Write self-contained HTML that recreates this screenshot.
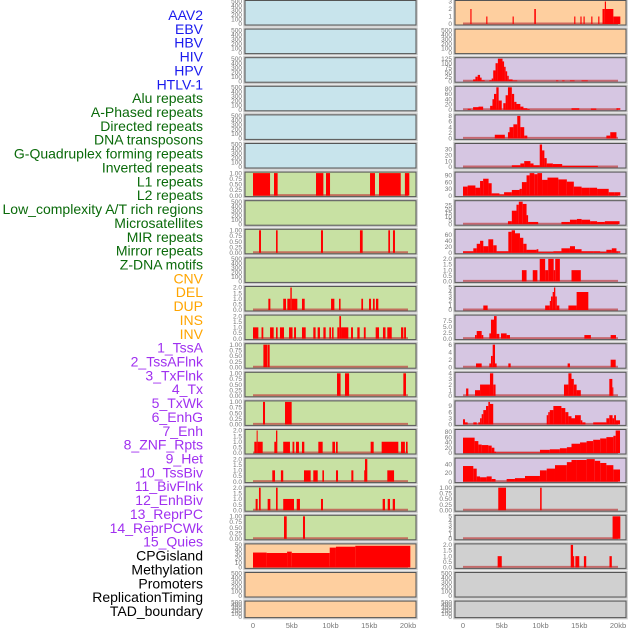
<!DOCTYPE html>
<html><head><meta charset="utf-8"><style>
html,body{margin:0;padding:0;background:#fff;}
svg{display:block;font-family:"Liberation Sans",sans-serif;}
</style></head><body>
<svg id="chart" width="630" height="630" viewBox="0 0 630 630" xmlns="http://www.w3.org/2000/svg"></svg>
<script>
const trackLabels = ["AAV2","EBV","HBV","HIV","HPV","HTLV-1","Alu repeats","A-Phased repeats","Directed repeats","DNA transposons","G-Quadruplex forming repeats","Inverted repeats","L1 repeats","L2 repeats","Low_complexity A/T rich regions","Microsatellites","MIR repeats","Mirror repeats","Z-DNA motifs","CNV","DEL","DUP","INS","INV","1_TssA","2_TssAFlnk","3_TxFlnk","4_Tx","5_TxWk","6_EnhG","7_Enh","8_ZNF_Rpts","9_Het","10_TssBiv","11_BivFlnk","12_EnhBiv","13_ReprPC","14_ReprPCWk","15_Quies","CPGisland","Methylation","Promoters","ReplicationTiming","TAD_boundary"];
const labelGroups = ["b","b","b","b","b","b","g","g","g","g","g","g","g","g","g","g","g","g","g","o","o","o","o","o","p","p","p","p","p","p","p","p","p","p","p","p","p","p","p","k","k","k","k","k"];
const xTicksKb = [0,5,10,15,20];
const xTickLabels = ["0","5kb","10kb","15kb","20kb"];
const E=[0,100,200,300,400,500], U=[0,0.25,0.5,0.75,1], T2=[0,0.5,1,1.5,2];
const leftTicks = [E,E,E,E,E,E,U,E,U,E,T2,T2,U,U,U,T2,T2,T2,U,[0,10,20,30,40,50],E,E];
const rightTicks = [[0,1,2,3],E,[0,25,50,75,100,125],[0,20,40,60,80],[0,2,4,6,8],[0,10,20,30],[0,30,60,90],[0,5,10,15,20,25],[0,20,40,60],T2,[0,1,2,3,4,5],[0,2.5,5,7.5],[0,2,4,6],[0,1,2,3,4],[0,3,6,9],[0,20,40,60,80],[0,20,40],U,[0,1,2,3,4,5],T2,E,E];
const leftBg = ["b","b","b","b","b","b","g","g","g","g","g","g","g","g","g","g","g","g","g","o","o","o"];
const rightBg = ["o","o","p","p","p","p","p","p","p","p","p","p","p","p","p","p","p","k","k","k","k","k"];
const leftSegs = [[],[],[],[],[],[],
[[0,2.2,1],[2.71,3.18,1],[8.13,9.08,1],[9.42,9.94,1],[15.1,15.74,1],[16.26,19.06,1],[19.6,20.17,1]],
[],
[[0.78,1.03,1],[2.97,3.18,1],[8.77,9.03,1],[13.8,14.15,1],[17.46,17.68,1],[18.06,18.32,1]],
[],
[[1.98,2.24,1],[3.9,4.26,1],[4.43,4.82,1],[4.82,5.0,2],[5.0,5.72,1],[6.32,6.67,1],[10.07,10.5,1],[11.1,11.3,1],[13.98,14.2,1],[14.97,15.23,1],[15.48,15.7,1],[15.87,16.17,1]],
[[0,0.69,1],[1.1,1.33,1],[2.2,2.67,1],[2.97,3.18,1],[3.48,4.0,1],[4.65,5.1,1],[5.3,5.55,1],[6.32,6.8,1],[7.78,8.08,1],[8.34,8.64,1],[9.08,9.38,1],[9.85,10.07,1],[10.2,10.4,1],[10.88,11.14,1],[11.14,11.36,2],[11.36,12.3,1],[12.65,12.9,1],[13.46,13.76,1],[14.3,14.54,1],[15.83,16.26,1],[16.77,17.1,1],[17.33,17.9,1],[19.1,19.4,1],[19.5,19.74,1]],
[[1.34,1.85,1],[1.9,2.15,1]],
[[10.84,11.3,1],[11.87,12.4,1],[19.4,19.74,1]],
[[1.29,1.55,1],[4.13,4.99,1]],
[[0.17,0.47,1],[0.47,0.6,2],[0.6,1.25,1],[2.75,2.97,1],[2.97,3.14,2],[3.9,4.77,1],[5.1,5.33,1],[5.55,5.93,1],[6.32,6.62,1],[8.43,8.99,1],[10.24,10.58,1],[10.71,10.93,1],[15.18,15.57,1],[16.6,18.75,1],[19.1,19.6,1],[19.74,19.95,1]],
[[2.49,2.84,1],[3.6,3.9,1],[6.58,7.44,1],[7.78,8.35,1],[8.95,9.16,1],[10.71,10.97,1],[12.69,12.95,1],[14.35,14.45,1],[14.45,14.75,2],[17.33,18.2,1]],
[[0.34,0.6,1],[0.77,0.99,2],[1.89,2.24,1],[2.97,3.18,2],[3.9,5.29,1],[5.64,6.06,1],[8.77,9.03,1],[16.73,17.03,1],[17.38,17.68,1],[18.03,18.32,1]],
[[4.0,4.35,1],[6.45,6.71,1]],
[[0,1.76,33],[1.76,4.4,32],[4.4,5.0,35],[5.0,9.9,32],[9.9,10.7,44],[10.7,13.2,46],[13.2,20.3,48]],
[],[]];
const rightSegs = [
[[0.95,1.1,2],[3.0,3.15,1],[6.4,6.55,1],[9.2,9.4,2],[14.35,14.5,1],[15.15,15.3,1],[15.55,15.7,1],[16.55,16.7,1],[17.45,17.6,1],[18.0,18.3,2],[18.3,18.45,3],[18.45,19.4,2],[19.4,20.3,1]],
[],
[[1.3,1.6,10],[1.6,1.9,25],[1.9,2.2,35],[2.2,2.4,20],[2.4,2.8,5],[3.4,3.7,5],[3.7,3.9,15],[3.9,4.2,60],[4.2,4.5,100],[4.5,5.1,125],[5.1,5.3,110],[5.3,5.5,80],[5.5,5.7,55],[5.7,5.9,30],[5.9,6.4,10],[6.4,7.0,4],[12.0,12.3,4],[12.8,13.1,4],[13.8,14.4,4],[15.3,16.1,4]],
[[0.6,1.0,4],[1.3,2.0,10],[2.0,2.6,12],[3.5,3.8,15],[3.8,4.0,40],[4.0,4.3,60],[4.3,4.6,85],[4.6,5.0,35],[5.2,5.5,25],[5.5,5.8,55],[5.8,6.3,85],[6.3,6.6,60],[6.6,6.9,30],[6.9,7.4,22],[7.4,7.8,12],[7.8,8.3,6],[8.3,8.6,3],[14.0,15.0,6],[16.5,17.2,5],[19.8,20.3,6]],
[[4.1,5.4,1.3],[5.8,6.0,2.2],[6.0,6.5,4],[6.5,7.0,5],[7.0,7.4,8],[7.4,7.9,4],[7.9,8.3,1],[18.5,19.0,1],[19.0,19.8,2.2]],
[[6.3,7.4,3],[7.4,7.9,6],[7.9,8.7,10],[8.7,9.1,6],[9.1,9.9,3],[9.9,10.2,38],[10.2,10.5,28],[10.5,10.8,15],[10.8,11.6,6],[11.6,12.8,5],[12.8,17.4,2]],
[[0,0.6,40],[0.6,1.6,45],[1.6,2.2,35],[2.2,2.6,65],[2.6,3.3,75],[3.3,3.7,55],[3.7,4.7,10],[4.7,5.3,5],[5.3,6.3,15],[6.3,7.3,25],[7.3,7.6,30],[7.6,8.2,60],[8.2,8.6,90],[8.6,9.2,100],[9.2,9.6,95],[9.6,10.2,100],[10.2,10.9,70],[10.9,12.3,80],[12.3,13.4,72],[13.4,14.3,62],[14.3,15.3,40],[15.3,16.3,35],[16.3,17.3,35],[17.3,18.8,30],[18.8,19.5,15],[19.5,20.3,15]],
[[5.8,6.3,4],[6.3,6.9,18],[6.9,7.2,26],[7.2,7.7,30],[7.7,8.2,27],[8.2,8.4,12],[8.4,9.7,3],[12.7,13.8,3],[13.8,14.7,6],[14.7,15.3,7],[15.3,16.4,6],[16.4,17.3,4],[17.3,18.3,3],[18.3,20.2,4]],
[[0,1.33,5],[1.33,1.77,15],[1.77,2.2,30],[2.2,2.62,40],[2.62,3.27,22],[3.27,3.9,45],[3.9,4.34,25],[4.34,5.85,5],[5.85,6.28,70],[6.28,6.71,75],[6.71,7.35,65],[7.35,7.78,50],[7.78,8.2,30],[8.2,9.5,10],[9.5,9.72,12],[9.72,11.66,3],[11.66,12.7,5],[12.7,13.8,15],[13.8,14.45,22],[14.45,15.3,12],[15.3,16.8,5],[16.8,17.7,5],[17.7,18.5,3],[18.5,19.2,10],[19.2,19.8,15],[19.8,20.3,5]],
[[7.6,8.2,1],[9.0,9.6,1],[9.9,10.6,2],[10.6,11.0,1],[11.0,11.7,2],[11.7,11.9,1],[11.9,12.5,2],[14.0,15.2,1]],
[[2.62,3.18,1],[10.6,11.2,1],[11.2,11.35,2],[11.35,11.57,3],[11.57,11.74,4],[11.74,11.91,5],[11.91,12.1,3],[12.1,12.43,1],[13.6,14.66,1],[14.66,16.17,4]],
[[1.55,1.77,1.5],[1.77,2.41,3.2],[2.41,2.62,1.5],[3.4,3.61,2.2],[3.61,4.0,8],[4.0,4.34,9.5],[4.34,4.69,2],[4.9,5.63,2.2],[5.63,6.06,1.5],[15.66,16.5,1.5],[19.05,19.74,1.5]],
[[1.68,2.41,1],[3.4,3.61,1],[3.61,3.83,3],[3.83,4.13,6],[4.13,4.34,1],[5.85,6.15,1],[13.5,13.8,1],[19.05,19.7,2]],
[[0.4,0.69,1.3],[1.55,2.2,1],[2.2,3.48,2],[3.48,3.9,4],[3.9,4.2,2],[13.03,13.6,2],[13.6,14.0,4],[14.0,14.3,3],[14.3,14.66,2],[14.66,15.2,1],[18.88,19.27,3],[19.27,19.4,1.5]],
[[0,0.26,2.5],[0.26,0.6,1],[1.33,1.77,1],[1.98,2.2,1],[2.2,2.41,3],[2.41,2.62,5],[2.62,2.97,7],[2.97,3.27,9],[3.27,3.48,11],[3.48,3.9,10],[10.8,11.0,4.5],[11.0,11.2,6],[11.2,11.66,7],[11.66,12.7,9],[12.7,13.2,8],[13.2,13.6,6],[13.6,14.0,4],[14.0,14.45,3],[14.45,15.2,4.5],[15.2,15.4,2],[15.4,15.8,1],[16.8,18.5,1],[18.5,18.88,3],[18.88,19.3,4.5],[19.3,19.5,3],[19.5,19.74,4.5],[19.74,20.26,2]],
[[0,1.5,58],[1.5,1.98,45],[1.98,2.41,32],[2.41,3.27,30],[3.27,3.7,28],[3.7,4.05,20],[4.05,4.26,5],[4.26,9.93,2],[9.93,11.2,12],[11.2,12.5,14],[12.5,13.4,18],[13.4,14.0,22],[14.0,15.1,35],[15.1,15.95,40],[15.95,16.8,45],[16.8,17.7,50],[17.7,18.5,55],[18.5,19.4,60],[19.4,19.7,65],[19.7,20.26,85]],
[[0,1.33,36],[1.33,1.77,30],[1.77,2.2,12],[2.2,3.05,10],[3.05,3.7,12],[3.7,4.2,6],[5.63,6.7,6],[6.7,8.0,8],[8.0,9.93,13],[9.93,10.8,26],[10.8,11.87,30],[11.87,13.4,38],[13.4,14.0,45],[14.0,14.7,50],[14.7,15.95,50],[15.95,17.0,52],[17.0,17.7,48],[17.7,18.5,43],[18.5,19.4,38],[19.4,20.26,28]],
[[4.55,5.55,1],[9.95,10.15,1]],
[[19.3,20.3,5]],
[[4.47,5.0,1],[13.9,14.2,2],[14.2,14.35,1],[14.5,15.0,1],[15.6,15.9,1],[18.9,19.2,1]],
[],[]];

const NS="http://www.w3.org/2000/svg";
const svg=document.getElementById('chart');
const bgColors={b:"#c8e4ec",g:"#c8e1a3",o:"#fecf9f",p:"#d6c6e2",k:"#d0d0d0"};
const labelColors={b:"#1a1aee",g:"#0a6a0a",o:"#ffa500",p:"#a030f0",k:"#000"};
const cols=[{left:245,width:171,zero:253},{left:455,width:171,zero:463}];
const pxPerKb=7.75;
function xScale(col,kb){return cols[col].zero+kb*pxPerKb;}
function rowTop(i){return 0.5+28.6*i;}
function rowH(i){return i===21?16.5:24.5;}
function mk(tag,attrs){const e=document.createElementNS(NS,tag);for(const k in attrs)e.setAttribute(k,attrs[k]);return e;}
function fmt(v,ticks){const st=ticks[1]-ticks[0];if(st===0.25)return v.toFixed(2);if(st%1!==0||ticks===T2)return v.toFixed(1);return String(v);}

// labels
trackLabels.forEach((t,i)=>{
  const el=mk('text',{x:203,y:15+13.86*i+5,'text-anchor':'end','font-size':'14',fill:labelColors[labelGroups[i]]});
  
  
  el.textContent=t;svg.appendChild(el);
});

function drawPanel(col,i,bg,segs,ticks){
  const x0=cols[col].left,w=cols[col].width,top=rowTop(i),h=rowH(i),bottom=top+h;
  const g=mk('g',{});
  
  
  const shadow=mk('rect',{x:x0-1,y:top-1,width:w+2,height:h+2,fill:'none',stroke:'#c8c8c8','stroke-width':1.5});
  
  
  g.appendChild(shadow);
  const r=mk('rect',{x:x0,y:top,width:w,height:h,fill:bgColors[bg]});
  
  
  g.appendChild(r);
  let ymax=ticks[ticks.length-1];
  segs.forEach(s=>{if(s[2]>ymax)ymax=s[2];});
  const yS=v=>bottom-1-v/ymax*(h-2);
  if(segs.length){
    const bl=mk('line',{x1:xScale(col,0),x2:xScale(col,20),y1:bottom-1.5,y2:bottom-1.5,stroke:'#c04040','stroke-width':2,opacity:0.7});
    
    
    g.appendChild(bl);
  }
  segs.forEach(s=>{
    const xa=xScale(col,s[0]),xb=xScale(col,s[1]);
    const b=mk('rect',{x:xa,y:yS(s[2]),width:Math.max(1,xb-xa),height:bottom-1-yS(s[2]),fill:'#ff0000'});
    
    
    g.appendChild(b);
  });
  const fr=mk('rect',{x:x0,y:top,width:w,height:h,fill:'none',stroke:'#555','stroke-width':1});
  
  
  g.appendChild(fr);
  ticks.forEach(v=>{
    const t=mk('text',{x:x0-3,y:yS(v)+2.2,'text-anchor':'end','font-size':'6.5',fill:'#777'});
    
    
    t.textContent=fmt(v,ticks);g.appendChild(t);
  });
  svg.appendChild(g);
}
for(let i=0;i<22;i++){
  drawPanel(0,i,leftBg[i],leftSegs[i],leftTicks[i]);
  drawPanel(1,i,rightBg[i],rightSegs[i],rightTicks[i]);
}
[0,1].forEach(c=>{
  xTicksKb.forEach((k,j)=>{
    const t=mk('text',{x:xScale(c,k),y:628,'text-anchor':'middle','font-size':'7.5',fill:'#777'});
    
    
    t.textContent=xTickLabels[j];svg.appendChild(t);
  });
});
</script>
</body></html>
